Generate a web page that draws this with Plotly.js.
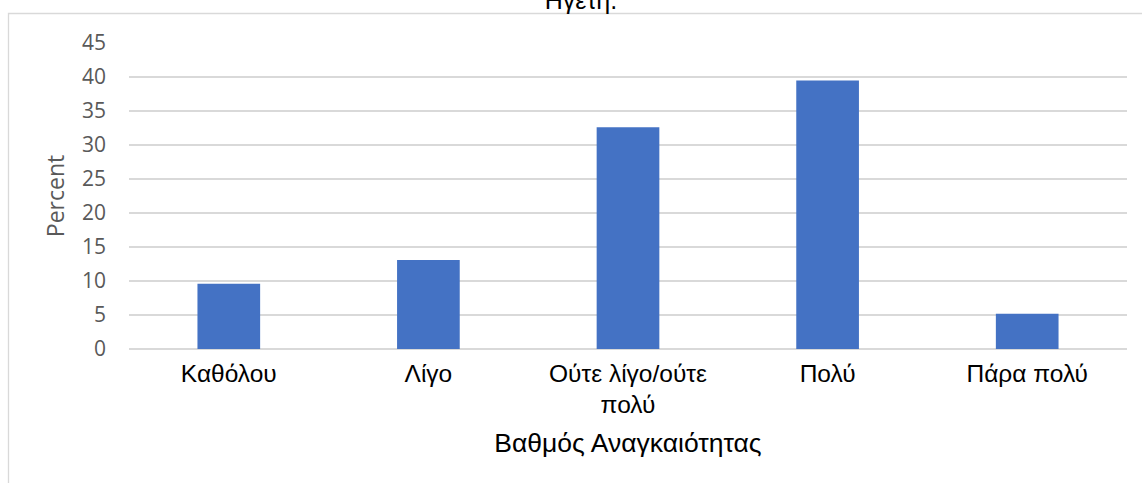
<!DOCTYPE html>
<html>
<head>
<meta charset="utf-8">
<script src="https://cdn.plot.ly/plotly-3.0.1.min.js"></script>
<style>
  html, body { margin: 0; padding: 0; background: #ffffff; }
  #chart { width: 1142px; height: 483px; }
</style>
</head>
<body>
<div id="chart"></div>
<script>
// Response categories (degree of necessity) and share of respondents, in percent
const categories = ["Καθόλου", "Λίγο", "Ούτε λίγο/ούτε<br>πολύ", "Πολύ", "Πάρα πολύ"];
const percentValues = [9.6, 13.1, 32.6, 39.5, 5.2];
const yTickValues = [0, 5, 10, 15, 20, 25, 30, 35, 40, 45];

const titleText = "Ηγέτη.";
const xTitleText = "Βαθμός Αναγκαιότητας";
const yTitleText = "Percent";

const trace = {
  type: "bar",
  x: categories,
  y: percentValues,
  marker: { color: "#4472C4", line: { width: 0 } },
  hoverinfo: "x+y"
};

const W = 1142, H = 483;
const margin = { l: 129, r: 15, t: 43, b: 134, pad: 0 };

// helpers converting page pixels to paper fractions for the chart-area frame
const plotW = W - margin.l - margin.r;
const plotH = H - margin.t - margin.b;
const px2x = p => (p - margin.l) / plotW;
const py2y = p => (H - margin.b - p) / plotH;

const labelFont = "Liberation Sans, Arial, sans-serif";
const axisFont = "Open Sans, sans-serif";

const layout = {
  width: W,
  height: H,
  margin: margin,
  paper_bgcolor: "#ffffff",
  plot_bgcolor: "#ffffff",
  showlegend: false,
  bargap: 0.686,
  title: {
    text: titleText,
    font: { family: labelFont, size: 25, color: "#000000" },
    xref: "paper",
    x: px2x(581),
    xanchor: "center",
    yref: "container",
    y: 1,
    yanchor: "middle"
  },
  xaxis: {
    type: "category",
    showgrid: false,
    zeroline: false,
    showline: false,
    ticks: "",
    tickfont: { family: labelFont, size: 24.5, color: "#000000" },
    ticklabelstandoff: 7,
    title: {
      text: xTitleText,
      font: { family: labelFont, size: 26.5, color: "#000000" },
      standoff: 16
    },
    fixedrange: true
  },
  yaxis: {
    range: [0, 45],
    tickvals: yTickValues,
    showgrid: true,
    gridcolor: "#d9d9d9",
    gridwidth: 1.3,
    zeroline: true,
    zerolinecolor: "#d9d9d9",
    zerolinewidth: 1.3,
    showline: false,
    ticks: "",
    tickfont: { family: axisFont, size: 21, color: "#595959" },
    ticklabelstandoff: 22,
    title: {
      text: yTitleText,
      font: { family: axisFont, size: 23, color: "#595959" },
      standoff: 10
    },
    fixedrange: true
  },
  shapes: [{
    type: "rect",
    xref: "paper", yref: "paper",
    x0: px2x(8.5), x1: px2x(1160),
    y0: py2y(500), y1: py2y(13.5),
    line: { color: "#d9d9d9", width: 1.3 },
    fillcolor: "rgba(0,0,0,0)",
    layer: "below"
  }]
};

Plotly.newPlot("chart", [trace], layout, { displayModeBar: false, staticPlot: true });
</script>
</body>
</html>
